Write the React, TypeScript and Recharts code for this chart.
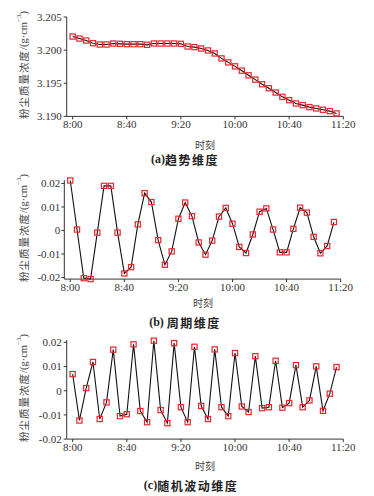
import React from "react";
import { LineChart, Line, XAxis, YAxis } from "recharts";

const timeLabels = [
  "8:00", "8:05", "8:10", "8:15", "8:20", "8:25", "8:30", "8:35", "8:40", "8:45",
  "8:50", "8:55", "9:00", "9:05", "9:10", "9:15", "9:20", "9:25", "9:30", "9:35",
  "9:40", "9:45", "9:50", "9:55", "10:00", "10:05", "10:10", "10:15", "10:20", "10:25",
  "10:30", "10:35", "10:40", "10:45", "10:50", "10:55", "11:00", "11:05", "11:10", "11:15",
];

const trendValues = [
  3.20205, 3.20175, 3.20145, 3.20105, 3.20085, 3.20085, 3.2010, 3.20095, 3.2009, 3.2009,
  3.2009, 3.2008, 3.2010, 3.2010, 3.2010, 3.2010, 3.20095, 3.20055, 3.20045, 3.20025,
  3.19995, 3.1995, 3.19875, 3.19815, 3.19755, 3.1969, 3.1962, 3.19555, 3.19485, 3.19425,
  3.1936, 3.19295, 3.19245, 3.19195, 3.1917, 3.1914, 3.1912, 3.1910, 3.1908, 3.19045,
];

const periodValues = [
  0.0213, 0.0004, -0.0203, -0.0207, -0.0009, 0.019, 0.019, -0.0009, -0.0183, -0.0156,
  0.0026, 0.0159, 0.0121, -0.0041, -0.0146, -0.0089, 0.005, 0.0119, 0.0061, -0.0051,
  -0.0103, -0.0043, 0.0059, 0.0096, 0.0029, -0.007, -0.0096, -0.0017, 0.008, 0.0094,
  0.0004, -0.0093, -0.0093, 0.0007, 0.0097, 0.0076, -0.0027, -0.0097, -0.0066, 0.0036,
];

const randomValues = [
  0.0069, -0.0123, 0.0011, 0.0119, -0.0117, -0.0048, 0.017, -0.0105, -0.0097, 0.0192,
  -0.0084, -0.013, 0.0207, -0.008, -0.0134, 0.0197, -0.0068, -0.013, 0.0182, -0.0063,
  -0.0117, 0.0171, -0.0068, -0.0105, 0.0156, -0.0065, -0.0088, 0.0143, -0.0072, -0.0068,
  0.0124, -0.007, -0.0051, 0.0106, -0.0068, -0.004, 0.0101, -0.0083, -0.0012, 0.0098,
];

const xTickLabels = ["8:00", "8:40", "9:20", "10:00", "10:40", "11:20"];
const trendTicks = [3.19, 3.195, 3.2, 3.205];
const waveTicks = [-0.02, -0.01, 0, 0.01, 0.02];

const xAxisTitle = "时刻";
const captions = [
  { tag: "(a)", text: "趋势维度" },
  { tag: "(b) ", text: "周期维度" },
  { tag: "(c)", text: "随机波动维度" },
];

const toMin = (s: string) => {
  const [h, m] = s.split(":").map(Number);
  return (h - 8) * 60 + m;
};
const fmtTime = (v: number) => {
  const h = 8 + Math.floor(v / 60);
  const m = Math.round(v % 60);
  return `${h}:${m < 10 ? "0" + m : m}`;
};

const build = (vals: number[]) => timeLabels.map((t, i) => ({ t: toMin(t), v: vals[i] }));

const SERIF = "'Liberation Serif', 'DejaVu Serif', serif";
const CJK = "'Noto Sans CJK SC', sans-serif";

const SquareDot = (props: any) => {
  const { cx, cy } = props;
  if (cx == null || cy == null) return null;
  return (
    <rect x={cx - 2.6} y={cy - 2.6} width={5.2} height={5.2} fill="none" stroke="#e8262e" strokeWidth={1.2} />
  );
};

type PanelProps = {
  vals: number[];
  plotTop: number;
  plotBottom: number;
  left: number;
  right: number;
  xMin: number;
  yDomain: [number, number];
  yTicks: number[];
  yFmt: (v: number) => string;
  tickMargin: number;
};

const Panel = ({ vals, plotTop, plotBottom, left, right, xMin, yDomain, yTicks, yFmt, tickMargin }: PanelProps) => {
  const pad = 5;
  const xh = 22;
  const height = pad + (plotBottom - plotTop) + xh;
  const axisStyle = { stroke: "#333", strokeWidth: 1 };
  return (
    <div style={{ position: "absolute", left: 0, top: plotTop - pad }}>
      <LineChart width={374} height={height} data={build(vals)} margin={{ top: pad, right: 374 - right, bottom: 0, left: 0 }}>
        <XAxis
          dataKey="t"
          type="number"
          domain={[xMin, 200]}
          ticks={xTickLabels.map(toMin)}
          tickFormatter={fmtTime}
          height={xh}
          axisLine={axisStyle}
          tickLine={axisStyle}
          tickSize={3}
          tickMargin={1}
          tick={{ fontFamily: SERIF, fontSize: 11, fill: "#333" }}
          interval={0}
          allowDataOverflow
        />
        <YAxis
          type="number"
          domain={yDomain}
          ticks={yTicks}
          tickFormatter={yFmt}
          width={left}
          axisLine={axisStyle}
          tickLine={axisStyle}
          tickSize={3}
          tickMargin={tickMargin}
          tick={{ fontFamily: SERIF, fontSize: 11, fill: "#333" }}
          interval={0}
        />
        <Line
          dataKey="v"
          stroke="#111"
          strokeWidth={1.1}
          dot={<SquareDot />}
          activeDot={false}
          isAnimationActive={false}
        />
      </LineChart>
    </div>
  );
};

const fmtTrend = (v: number) => v.toFixed(3);
const fmtWave = (v: number) => (v === 0 ? "0" : v.toFixed(2));

const YTitle = ({ x, y }: { x: number; y: number }) => (
  <text
    transform={`translate(${x},${y}) rotate(-90)`}
    textAnchor="middle"
    dominantBaseline="central"
    fontSize={10.5}
    fill="#444"
  >
    <tspan fontFamily={CJK} letterSpacing={1}>粉尘质量浓度</tspan>
    <tspan fontFamily={SERIF}>/(g·cm</tspan>
    <tspan fontFamily={SERIF} fontSize={7} dy={-4}>−3</tspan>
    <tspan fontFamily={SERIF} dy={4}>)</tspan>
  </text>
);

const Caption = ({ x, y, tag, text }: { x: number; y: number; tag: string; text: string }) => (
  <text x={x} y={y} textAnchor="middle" dominantBaseline="central" fontSize={12} fill="#222" fontWeight="bold">
    <tspan fontFamily={SERIF}>{tag}</tspan>
    <tspan fontFamily={CJK} letterSpacing={1.5}>{text}</tspan>
  </text>
);

export default function App() {
  return (
    <div style={{ position: "absolute", left: 0, top: 0, width: 374, height: 496, background: "#fff", overflow: "hidden" }}>
      <Panel
        vals={trendValues}
        plotTop={17.3}
        plotBottom={116.7}
        left={66.7}
        right={343.3}
        xMin={-4.4}
        yDomain={[3.19, 3.205]}
        yTicks={trendTicks}
        yFmt={fmtTrend}
        tickMargin={2}
      />
      <Panel
        vals={periodValues}
        plotTop={179.8}
        plotBottom={278.9}
        left={64.3}
        right={340.7}
        xMin={-4.4}
        yDomain={[-0.0207, 0.0215]}
        yTicks={waveTicks}
        yFmt={fmtWave}
        tickMargin={1}
      />
      <Panel
        vals={randomValues}
        plotTop={339.9}
        plotBottom={439}
        left={66.7}
        right={343.3}
        xMin={-4.4}
        yDomain={[-0.02, 0.021]}
        yTicks={waveTicks}
        yFmt={fmtWave}
        tickMargin={2}
      />
      <svg width={374} height={496} style={{ position: "absolute", left: 0, top: 0, pointerEvents: "none" }}>
        <YTitle x={23.3} y={65} />
        <YTitle x={22.7} y={228} />
        <YTitle x={22.7} y={388} />
        <text x={205} y={144} textAnchor="middle" dominantBaseline="central" fontSize={10} fill="#444" fontFamily={CJK}>{xAxisTitle}</text>
        <text x={203} y={302.5} textAnchor="middle" dominantBaseline="central" fontSize={10} fill="#444" fontFamily={CJK}>{xAxisTitle}</text>
        <text x={205} y={465} textAnchor="middle" dominantBaseline="central" fontSize={10} fill="#444" fontFamily={CJK}>{xAxisTitle}</text>
        <Caption x={185} y={159} tag={captions[0].tag} text={captions[0].text} />
        <Caption x={185} y={322} tag={captions[1].tag} text={captions[1].text} />
        <Caption x={191} y={485} tag={captions[2].tag} text={captions[2].text} />
      </svg>
    </div>
  );
}
